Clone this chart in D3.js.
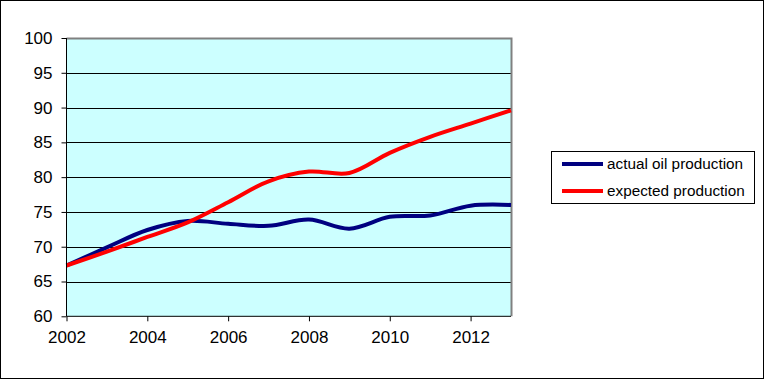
<!DOCTYPE html>
<html><head><meta charset="utf-8">
<script src="https://cdn.jsdelivr.net/npm/d3@7"></script>
<style>body{margin:0;background:#fff}svg{display:block}text{font-family:"Liberation Sans",Arial,sans-serif}</style>
</head><body>
<script>
const years = [2002,2003,2004,2005,2006,2007,2008,2009,2010,2011,2012,2013];
const actual = [67.3,69.9,72.4,73.7,73.3,73.0,73.9,72.6,74.3,74.5,75.9,76.0];
const expected = [67.3,69.3,71.4,73.5,76.4,79.4,80.8,80.6,83.5,85.8,87.7,89.6];
const yTicks = [60,65,70,75,80,85,90,95,100];
const xTicks = [2002,2004,2006,2008,2010,2012];
const seriesNames = ["actual oil production","expected production"];
const colors = ["#000080","#ff0000"];

const W=765,H=380;
const svg=d3.select("body").append("svg").attr("width",W).attr("height",H);
svg.append("rect").attr("x",0.5).attr("y",0.5).attr("width",W-2).attr("height",H-2).attr("fill","#fff").attr("stroke","#000");

const L=66.5,R=511,T=38,B=316.3;
const x=d3.scaleLinear().domain([2002,2013]).range([L,R]);
const y=d3.scaleLinear().domain([60,100]).range([B,T]);

svg.append("rect").attr("x",L).attr("y",T).attr("width",R-L).attr("height",B-T).attr("fill","#ccffff");
svg.append("g").selectAll("line").data(yTicks.filter(v=>v>60&&v<100)).join("line")
 .attr("x1",L).attr("x2",R).attr("y1",d=>Math.round(y(d))+0.5).attr("y2",d=>Math.round(y(d))+0.5)
 .attr("stroke","#000").attr("stroke-width",1);
svg.append("path").attr("d",`M${L},${T+0.5}H${R+0.5}V${B}`).attr("fill","none").attr("stroke","#808080").attr("stroke-width",2);

const line=d3.line().x((d,i)=>x(years[i])).y(d=>y(d)).curve(d3.curveCatmullRom.alpha(0.5));
[actual,expected].forEach((s,k)=>{
  svg.append("path").datum(s).attr("d",line).attr("fill","none").attr("stroke",colors[k]).attr("stroke-width",4).attr("stroke-linejoin","round");
});

const ya=d3.axisLeft(y).tickValues(yTicks).tickSize(5).tickPadding(9);
const gy=svg.append("g").attr("transform",`translate(${L},0)`).call(ya);
gy.select(".domain").attr("stroke","#000").attr("d",`M0,${T}V${B}`);
gy.selectAll(".tick line").attr("stroke","#000");
gy.selectAll("text").attr("font-size",17).attr("fill","#000").style("font-family","'Liberation Sans',Arial,sans-serif");

const xa=d3.axisBottom(x).tickValues(xTicks).tickFormat(d3.format("d")).tickSize(5).tickPadding(10);
const gx=svg.append("g").attr("transform",`translate(0,${B})`).call(xa);
gx.select(".domain").attr("stroke","#000").attr("d",`M${L},0H${R}`);
gx.selectAll(".tick line").attr("stroke","#000");
gx.selectAll("text").attr("font-size",17).attr("fill","#000").style("font-family","'Liberation Sans',Arial,sans-serif");

const lg=svg.append("g");
lg.append("rect").attr("x",551.5).attr("y",151.5).attr("width",203).attr("height",52).attr("fill","#fff").attr("stroke","#000");
seriesNames.forEach((n,i)=>{
  const yy=164+i*27;
  lg.append("line").attr("x1",562).attr("x2",603).attr("y1",yy).attr("y2",yy).attr("stroke",colors[i]).attr("stroke-width",4);
  lg.append("text").attr("x",607).attr("y",yy+5.3).attr("font-size",15.3).attr("fill","#000").text(n);
});
</script>
</body></html>
